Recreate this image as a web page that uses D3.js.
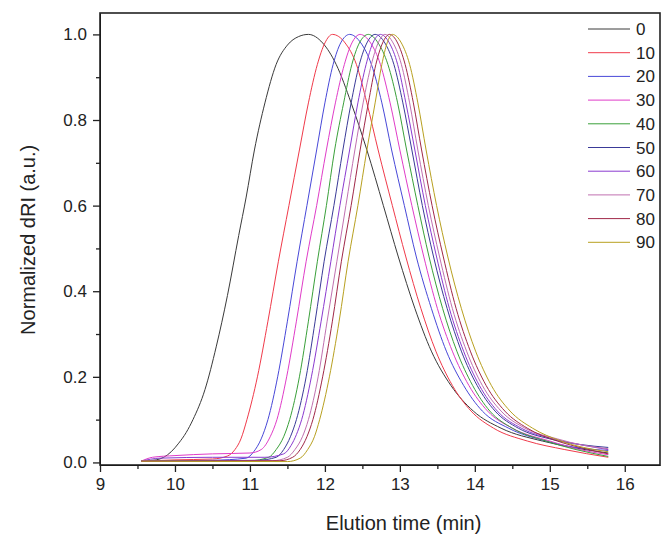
<!DOCTYPE html>
<html>
<head>
<meta charset="utf-8">
<script src="https://cdn.jsdelivr.net/npm/d3@7"></script>
<style>
  body { margin: 0; background: #fff; }
  svg { display: block; font-family: "Liberation Sans", Arial, sans-serif; }
</style>
</head>
<body>
<div id="chart"></div>
<script>
// ---- data: [elution time (min), normalized dRI] ----
const labels = ["0", "10", "20", "30", "40", "50", "60", "70", "80", "90"];

const s0 = [[9.55,0.003],[9.75,0.006],[9.85,0.012],[9.95,0.025],[10.05,0.045],[10.15,0.07],[10.24,0.1],[10.4,0.17],[10.55,0.27],[10.7,0.39],[10.85,0.53],[10.95,0.62],[11.06,0.73],[11.2,0.84],[11.35,0.93],[11.5,0.975],[11.65,0.995],[11.78,1.0],
  [11.97,0.98],[12.15,0.93],[12.35,0.84],[12.56,0.73],[12.78,0.6],[12.98,0.48],[13.2,0.36],[13.42,0.26],[13.68,0.18],[13.98,0.12],[14.35,0.08],[14.9,0.05],[15.3,0.035],[15.78,0.022]];
const s10 = [[9.55,0.003],[10.0,0.006],[10.5,0.008],[10.7,0.015],[10.8,0.03],[10.88,0.055],[10.96,0.1],[11.1,0.2],[11.24,0.33],[11.38,0.47],[11.52,0.6],[11.66,0.73],[11.78,0.84],[11.9,0.93],[12.0,0.98],[12.1,1.0],
  [12.27,0.98],[12.42,0.93],[12.56,0.84],[12.71,0.73],[12.9,0.6],[13.08,0.48],[13.28,0.36],[13.48,0.26],[13.7,0.18],[13.95,0.12],[14.25,0.08],[14.7,0.05],[15.2,0.03],[15.78,0.012]];
const s20 = [[9.55,0.003],[10.5,0.005],[10.95,0.01],[11.05,0.025],[11.15,0.055],[11.24,0.1],[11.37,0.2],[11.5,0.33],[11.63,0.47],[11.76,0.6],[11.89,0.73],[12.0,0.84],[12.11,0.93],[12.21,0.98],[12.33,1.0],
  [12.48,0.98],[12.62,0.93],[12.76,0.84],[12.89,0.73],[13.06,0.6],[13.22,0.48],[13.42,0.36],[13.62,0.26],[13.85,0.18],[14.1,0.12],[14.45,0.08],[14.95,0.05],[15.35,0.035],[15.78,0.028]];
const s30 = [[9.55,0.003],[9.7,0.012],[10.0,0.016],[10.5,0.02],[11.0,0.022],[11.15,0.03],[11.27,0.06],[11.36,0.1],[11.49,0.2],[11.62,0.33],[11.75,0.47],[11.89,0.6],[12.02,0.73],[12.14,0.84],[12.26,0.93],[12.36,0.98],[12.47,1.0],
  [12.61,0.98],[12.74,0.93],[12.87,0.84],[13.0,0.73],[13.16,0.6],[13.32,0.48],[13.5,0.36],[13.7,0.26],[13.92,0.18],[14.17,0.12],[14.5,0.08],[15.0,0.05],[15.4,0.03],[15.78,0.018]];
const s40 = [[9.55,0.003],[11.0,0.004],[11.25,0.012],[11.35,0.03],[11.45,0.06],[11.53,0.1],[11.66,0.2],[11.78,0.33],[11.9,0.47],[12.02,0.6],[12.13,0.73],[12.25,0.84],[12.36,0.93],[12.46,0.98],[12.58,1.0],
  [12.71,0.98],[12.84,0.93],[12.97,0.84],[13.09,0.73],[13.24,0.6],[13.39,0.48],[13.57,0.36],[13.76,0.26],[13.97,0.18],[14.2,0.12],[14.5,0.08],[14.95,0.05],[15.35,0.03],[15.78,0.014]];
const s50 = [[9.55,0.003],[11.1,0.005],[11.35,0.012],[11.45,0.03],[11.54,0.06],[11.62,0.1],[11.75,0.2],[11.87,0.33],[11.99,0.47],[12.12,0.6],[12.24,0.73],[12.35,0.84],[12.46,0.93],[12.56,0.98],[12.67,1.0],
  [12.8,0.98],[12.92,0.93],[13.04,0.84],[13.16,0.73],[13.3,0.6],[13.45,0.48],[13.63,0.36],[13.82,0.26],[14.03,0.18],[14.27,0.12],[14.58,0.08],[15.0,0.055],[15.4,0.042],[15.78,0.035]];
const s60 = [[9.55,0.003],[9.8,0.01],[10.5,0.012],[11.2,0.012],[11.45,0.02],[11.55,0.04],[11.62,0.065],[11.69,0.1],[11.82,0.2],[11.95,0.33],[12.08,0.47],[12.2,0.6],[12.33,0.73],[12.44,0.84],[12.55,0.93],[12.64,0.98],[12.74,1.0],
  [12.86,0.98],[12.97,0.93],[13.08,0.84],[13.2,0.73],[13.34,0.6],[13.49,0.48],[13.66,0.36],[13.85,0.26],[14.06,0.18],[14.3,0.12],[14.62,0.08],[15.05,0.055],[15.45,0.04],[15.78,0.03]];
const s70 = [[9.55,0.003],[11.3,0.004],[11.5,0.012],[11.6,0.03],[11.7,0.06],[11.78,0.1],[11.91,0.2],[12.03,0.33],[12.16,0.47],[12.28,0.6],[12.4,0.73],[12.51,0.84],[12.62,0.93],[12.71,0.98],[12.8,1.0],
  [12.91,0.98],[13.02,0.93],[13.13,0.84],[13.24,0.73],[13.38,0.6],[13.53,0.48],[13.7,0.36],[13.89,0.26],[14.1,0.18],[14.35,0.12],[14.67,0.08],[15.1,0.055],[15.45,0.04],[15.78,0.032]];
const s80 = [[9.55,0.003],[11.4,0.004],[11.57,0.012],[11.67,0.03],[11.76,0.06],[11.84,0.1],[11.97,0.2],[12.1,0.33],[12.22,0.47],[12.35,0.6],[12.47,0.73],[12.58,0.84],[12.68,0.93],[12.77,0.98],[12.86,1.0],
  [12.97,0.98],[13.07,0.93],[13.18,0.84],[13.29,0.73],[13.43,0.6],[13.58,0.48],[13.75,0.36],[13.94,0.26],[14.15,0.18],[14.4,0.12],[14.7,0.08],[15.1,0.05],[15.45,0.033],[15.78,0.02]];
const s90 = [[9.55,0.003],[11.5,0.002],[11.67,0.01],[11.77,0.03],[11.86,0.06],[11.93,0.1],[12.06,0.2],[12.19,0.33],[12.31,0.47],[12.44,0.6],[12.56,0.73],[12.67,0.84],[12.76,0.93],[12.83,0.98],[12.9,1.0],
  [13.02,0.98],[13.13,0.93],[13.24,0.84],[13.35,0.73],[13.49,0.6],[13.64,0.48],[13.82,0.36],[14.01,0.26],[14.22,0.18],[14.47,0.12],[14.77,0.08],[15.15,0.05],[15.45,0.035],[15.78,0.025]];

const xTicks = [9, 10, 11, 12, 13, 14, 15, 16];
const yTicks = [0.0, 0.2, 0.4, 0.6, 0.8, 1.0];

const allSeries = [s0, s10, s20, s30, s40, s50, s60, s70, s80, s90];
const colors = ["#3a3a3a", "#f03a4a", "#4848d8", "#e03cc8", "#3aa03a",
                "#3a3a98", "#8a3ad0", "#c070b0", "#a02848", "#b8a020"];

// ---- layout ----
const width = 662, height = 537;
const margin = {top: 13, right: 2, bottom: 72, left: 100};
const iw = width - margin.left - margin.right,
      ih = height - margin.top - margin.bottom;

const svg = d3.select("#chart").append("svg")
    .attr("width", width)
    .attr("height", height);

const g = svg.append("g")
    .attr("transform", `translate(${margin.left},${margin.top})`);

const x = d3.scaleLinear().domain([9, 16.47]).range([0, iw]);
const y = d3.scaleLinear().domain([-0.006, 1.05]).range([ih, 0]);

// minor ticks first, then major ticks with labels
g.append("g")
    .attr("transform", `translate(0,${ih})`)
    .call(d3.axisBottom(x).tickValues(d3.range(9.5, 16.4, 1)).tickSize(4).tickFormat(""))
    .call(a => a.select(".domain").remove());
g.append("g")
    .call(d3.axisLeft(y).tickValues(d3.range(0.1, 1.0, 0.2)).tickSize(4).tickFormat(""))
    .call(a => a.select(".domain").remove());

const xAxis = g.append("g")
    .attr("transform", `translate(0,${ih})`)
    .call(d3.axisBottom(x).tickValues(xTicks).tickSize(7).tickPadding(6).tickSizeOuter(0).tickFormat(d3.format("d")));
const yAxis = g.append("g")
    .call(d3.axisLeft(y).tickValues(yTicks).tickSize(7).tickPadding(6).tickSizeOuter(0).tickFormat(d3.format(".1f")));

[xAxis, yAxis].forEach(a => {
  a.selectAll("text").attr("font-size", 17).attr("fill", "#222").attr("font-family", "Liberation Sans, Arial, sans-serif");
});
g.selectAll(".tick line").attr("stroke", "#222").attr("stroke-width", 1.3);

// frame
g.append("rect")
    .attr("width", iw).attr("height", ih)
    .attr("fill", "none").attr("stroke", "#222").attr("stroke-width", 1.6);

// curves
const line = d3.line()
    .x(d => x(d[0]))
    .y(d => y(d[1]))
    .curve(d3.curveMonotoneX);

g.selectAll(".curve")
  .data(allSeries)
  .enter().append("path")
    .attr("class", "curve")
    .attr("d", line)
    .attr("fill", "none")
    .attr("stroke", (d, i) => colors[i])
    .attr("stroke-width", 1);

// legend
const legend = svg.append("g").attr("transform", "translate(588,29)");
labels.forEach((lab, i) => {
  const row = legend.append("g").attr("transform", `translate(0,${i * 23.7})`);
  row.append("line").attr("x1", 0).attr("x2", 42)
     .attr("stroke", colors[i]).attr("stroke-width", 1);
  row.append("text").attr("x", 48).attr("y", 6)
     .attr("font-size", 17).attr("fill", "#222").text(lab);
});

// axis titles
svg.append("text")
    .attr("x", margin.left + x(13.05)).attr("y", 530)
    .attr("text-anchor", "middle").attr("font-size", 20).attr("fill", "#222")
    .text("Elution time (min)");
svg.append("text")
    .attr("transform", `translate(35,${margin.top + y(0.52)}) rotate(-90)`)
    .attr("text-anchor", "middle").attr("font-size", 20).attr("fill", "#222")
    .text("Normalized dRI (a.u.)");
</script>
</body>
</html>
